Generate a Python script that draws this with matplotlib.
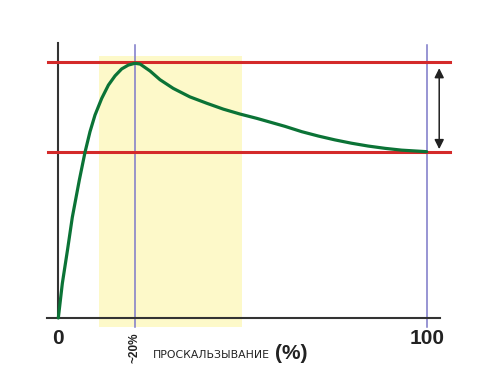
import matplotlib
matplotlib.use("Agg")
import matplotlib.pyplot as plt

# slip (%) vs friction (% of peak)
slip = [0, 1.09, 2.5, 3.8, 5.7, 7.25, 8.6, 9.96, 11.78, 13.6, 15.4, 17.2,
        19.0, 20.8, 22.2, 24.9, 27.6, 31.2, 35.7, 40.3, 44.8, 49.3, 53.9,
        61.5, 66.1, 70.6, 75.1, 79.6, 84.1, 88.7, 93.2, 100]
friction = [0, 13.5, 26.6, 39.3, 53.8, 64.7, 72.7, 79.2, 85.7, 90.9, 94.5, 97.2,
            98.7, 99.4, 99.1, 96.4, 93.0, 89.6, 86.3, 83.8, 81.5, 79.6, 77.9,
            74.8, 72.7, 71.0, 69.5, 68.2, 67.1, 66.2, 65.5, 64.9]

peak_level = 100
end_level = 64.9
peak_slip = 20.8
zone = (11.0, 49.8)
tick_pos = [0, 100]
tick_labels = ["0", "100"]

fig = plt.figure(figsize=(5, 3.81), dpi=100)
ax = fig.add_axes([0, 0, 1, 1])
ax.set_xlim(-15.83, 119.9)
ax.set_ylim(-24.6, 124.1)
ax.axis("off")

# optimal slip zone
ax.fill_between(zone, -3.5, 102.2, color="#fdf9c9", lw=0, zorder=0)

# axes
ax.plot([-3.1, 103.6], [0, 0], color="#333333", lw=1.5, zorder=2)
ax.plot([0, 0], [0, 107.3], color="#333333", lw=1.5, zorder=2)

# vertical guides
for xv in [peak_slip, 100]:
    ax.plot([xv, xv], [-3.5, 106.5], color="#7c78c8", lw=1.1, zorder=1)

# horizontal levels
for yv in [peak_level, end_level]:
    ax.plot([-2.8, 106.3], [yv, yv], color="#d42a2a", lw=2.2, zorder=3)

ax.plot(slip, friction, color="#0b7336", lw=2.3, zorder=4,
        solid_capstyle="round", solid_joinstyle="round")

ax.annotate("", xy=(103.4, 97.5), xytext=(103.4, 65.9),
            arrowprops=dict(arrowstyle="<|-|>", color="#222222", lw=1.1,
                            mutation_scale=14, shrinkA=0, shrinkB=0))

for xp, lab in zip(tick_pos, tick_labels):
    ax.text(xp, -4.3, lab, ha="center", va="top", fontsize=15,
            fontweight="bold", family="Liberation Sans", color="#222222")

ax.text(peak_slip, -5.5, "~20%", rotation=90, ha="center", va="top",
        fontsize=8.5, fontweight="bold", family="Liberation Sans", color="#222222")
ax.text(25.7, -14.4, "ПРОСКАЛЬЗЫВАНИЕ", ha="left", va="center",
        fontsize=7.8, family="DejaVu Sans", color="#222222")
ax.text(58.7, -14.0, "(%)", ha="left", va="center", fontsize=15,
        fontweight="bold", family="Liberation Sans", color="#222222")

fig.savefig("out.png", dpi=100)
